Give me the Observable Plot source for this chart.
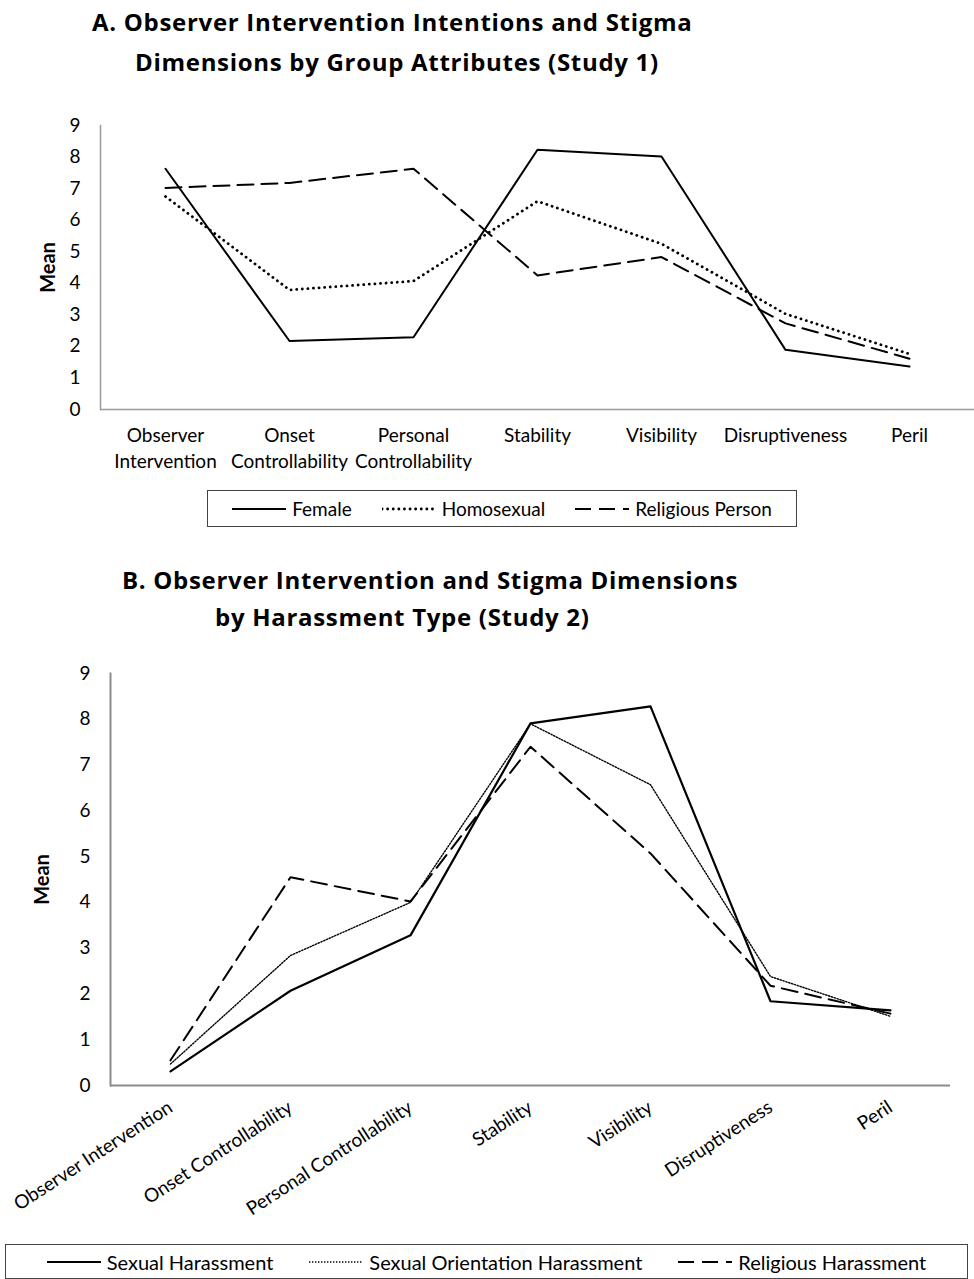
<!DOCTYPE html>
<html>
<head>
<meta charset="utf-8">
<script src="https://cdn.jsdelivr.net/npm/d3@7"></script>
<script src="https://cdn.jsdelivr.net/npm/@observablehq/plot@0.6"></script>
<style>
  body { margin: 0; background: #fff; font-family: Lato, "Open Sans", sans-serif; color: #000; }
  #root { position: relative; width: 974px; height: 1279px; overflow: hidden; background: #fff; }
  .title { position: absolute; font-family: "Open Sans", sans-serif; font-weight: bold; font-size: 24px; letter-spacing: 0.7px; line-height: 30px; white-space: nowrap; }
  .chart { position: absolute; left: 0; }
  .legend { position: absolute; border: 1px solid #444; box-sizing: border-box; display: flex; align-items: center; justify-content: center; white-space: nowrap; }
  .item { display: flex; align-items: center; }
  .item svg { margin-right: 6px; }
</style>
</head>
<body>
<div id="root">
  <div class="title" style="left:92px; top:7px;">A. Observer Intervention Intentions and Stigma</div>
  <div class="title" style="left:135px; top:47px;">Dimensions by Group Attributes (Study 1)</div>
  <div class="chart" id="chartA" style="top:110px;"></div>
  <div class="legend" id="legendA" style="left:207px; top:490px; width:590px; height:37px; gap:30px; font-size:19px;"></div>
  <div class="title" style="left:122px; top:565px;">B. Observer Intervention and Stigma Dimensions</div>
  <div class="title" style="left:215px; top:602px;">by Harassment Type (Study 2)</div>
  <div class="chart" id="chartB" style="top:650px;"></div>
  <div class="legend" id="legendB" style="left:5px; top:1244px; width:963px; height:35px; gap:36px; font-size:20px;"></div>
</div>
<script>
// ---- Data ----
const categories = ["Observer Intervention", "Onset Controllability", "Personal Controllability", "Stability", "Visibility", "Disruptiveness", "Peril"];
const tickLabelsA = ["Observer\nIntervention", "Onset\nControllability", "Personal\nControllability", "Stability", "Visibility", "Disruptiveness", "Peril"];
const yTicks = [0, 1, 2, 3, 4, 5, 6, 7, 8, 9];

const seriesA = ["Female", "Homosexual", "Religious Person"];
const femaleA = [7.63, 2.17, 2.29, 8.23, 8.02, 1.89, 1.36];
const homosexualA = [6.75, 3.79, 4.07, 6.60, 5.25, 3.03, 1.76];
const religiousA = [7.02, 7.18, 7.63, 4.25, 4.83, 2.73, 1.61];

const seriesB = ["Sexual Harassment", "Sexual Orientation Harassment", "Religious Harassment"];
const sexualB = [0.31, 2.07, 3.28, 7.91, 8.28, 1.84, 1.64];
const orientationB = [0.47, 2.84, 4.00, 7.90, 6.57, 2.38, 1.51];
const religiousB = [0.55, 4.55, 4.02, 7.40, 5.07, 2.18, 1.57];

// ---- Styles per series ----
const stylesA = [
  {stroke: "#000", strokeWidth: 2},
  {stroke: "#000", strokeWidth: 2.8, strokeDasharray: "0.1 5.5", strokeLinecap: "round"},
  {stroke: "#000", strokeWidth: 2, strokeDasharray: "16 8"}
];
const stylesB = [
  {stroke: "#000", strokeWidth: 2.2},
  {stroke: "#000", strokeWidth: 1.4, strokeDasharray: "1.4 1.6"},
  {stroke: "#000", strokeWidth: 2, strokeDasharray: "16 8"}
];

const rows = vals => vals.map((v, i) => ({category: categories[i], value: v}));

function lineMarks(valuesList, styles) {
  return valuesList.map((vals, k) => Plot.line(rows(vals), {x: "category", y: "value", ...styles[k]}));
}

// ---- Chart A ----
const chartA = Plot.plot({
  width: 974,
  height: 369,
  marginTop: 15,
  marginBottom: 70,
  marginLeft: 100,
  marginRight: 0,
  style: {fontFamily: "Lato, sans-serif", fontSize: "19px", color: "#000", background: "#fff"},
  x: {type: "point", domain: categories, padding: 0.5},
  y: {domain: [0, 9]},
  marks: [
    Plot.ruleY([0], {stroke: "#9a9a9a", strokeWidth: 1.5}),
    Plot.frame({anchor: "left", stroke: "#9a9a9a", strokeWidth: 1.5}),
    Plot.axisY({ticks: yTicks, tickSize: 0, tickPadding: 20, label: null, fontSize: 19}),
    Plot.axisX({tickSize: 0, tickPadding: 14, label: null, fontSize: 19, lineHeight: 1.37,
      tickFormat: d => tickLabelsA[categories.indexOf(d)]}),
    Plot.text(["Mean"], {frameAnchor: "left", rotate: -90, dx: -52, textAnchor: "middle", fontWeight: "bold", fontSize: 20}),
    ...lineMarks([femaleA, homosexualA, religiousA], stylesA)
  ]
});
document.getElementById("chartA").appendChild(chartA);

// ---- Chart B ----
const chartB = Plot.plot({
  width: 974,
  height: 585,
  marginTop: 23,
  marginBottom: 150,
  marginLeft: 110,
  marginRight: 24,
  style: {fontFamily: "Lato, sans-serif", fontSize: "19px", color: "#000", background: "#fff"},
  x: {type: "point", domain: categories, padding: 0.5},
  y: {domain: [0, 9]},
  marks: [
    Plot.ruleY([0], {stroke: "#8c8c8c", strokeWidth: 2}),
    Plot.frame({anchor: "left", stroke: "#8c8c8c", strokeWidth: 2}),
    Plot.axisY({ticks: yTicks, tickSize: 0, tickPadding: 20, label: null, fontSize: 19}),
    Plot.axisX({tickSize: 0, tickPadding: 20, tickRotate: -33, label: null, fontSize: 19}),
    Plot.text(["Mean"], {frameAnchor: "left", rotate: -90, dx: -68, textAnchor: "middle", fontWeight: "bold", fontSize: 20}),
    ...lineMarks([sexualB, orientationB, religiousB], stylesB)
  ]
});
document.getElementById("chartB").appendChild(chartB);

// ---- Legends ----
function buildLegend(el, names, styles) {
  names.forEach((name, k) => {
    const s = styles[k];
    const item = document.createElement("div");
    item.className = "item";
    const attrs = `stroke="${s.stroke}" stroke-width="${s.strokeWidth}"` +
      (s.strokeDasharray ? ` stroke-dasharray="${s.strokeDasharray}"` : "") +
      (s.strokeLinecap ? ` stroke-linecap="${s.strokeLinecap}"` : "");
    item.innerHTML = `<svg width="54" height="10"><line x1="0" y1="5" x2="54" y2="5" ${attrs}></line></svg><span>${name}</span>`;
    el.appendChild(item);
  });
}
buildLegend(document.getElementById("legendA"), seriesA, stylesA);
buildLegend(document.getElementById("legendB"), seriesB, stylesB);
</script>
</body>
</html>
